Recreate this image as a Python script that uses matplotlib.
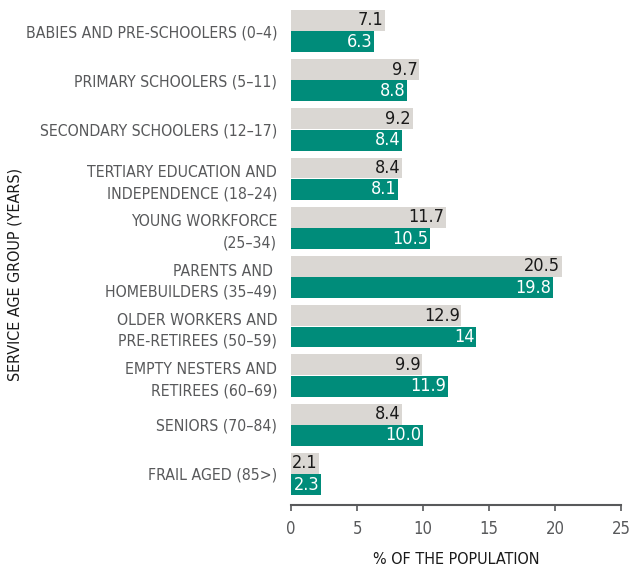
import matplotlib.pyplot as plt
import numpy as np

# Datos
groups = ['BABIES AND PRE-SCHOOLERS (0–4)', 'PRIMARY SCHOOLERS (5–11)',
          'SECONDARY SCHOOLERS (12–17)', 'TERTIARY EDUCATION AND\nINDEPENDENCE (18–24)',
          'YOUNG WORKFORCE\n(25–34)', 'PARENTS AND \nHOMEBUILDERS (35–49)',
          'OLDER WORKERS AND\nPRE-RETIREES (50–59)', 'EMPTY NESTERS AND\nRETIREES (60–69)',
          'SENIORS (70–84)', 'FRAIL AGED (85>)']
grey_vals = [7.1, 9.7, 9.2, 8.4, 11.7, 20.5, 12.9, 9.9, 8.4, 2.1]
teal_vals = [6.3, 8.8, 8.4, 8.1, 10.5, 19.8, 14.0, 11.9, 10.0, 2.3]
grey_labels = ['7.1', '9.7', '9.2', '8.4', '11.7', '20.5', '12.9', '9.9', '8.4', '2.1']
teal_labels = ['6.3', '8.8', '8.4', '8.1', '10.5', '19.8', '14', '11.9', '10.0', '2.3']
xticks = [0, 5, 10, 15, 20, 25]

plt.rcParams['font.family'] = ['DejaVu Sans']
plt.rcParams['font.stretch'] = 'condensed'

GREY = '#dad7d3'
TEAL = '#008c7a'
TXT = '#58595b'

fig = plt.figure(figsize=(6.3, 5.71), dpi=100)
ax = fig.add_axes([0.462, 0.1156, 0.524, 0.8757])

y = np.arange(len(groups))
h = 0.425
off = 0.217
ax.barh(y - off, grey_vals, height=h, color=GREY)
ax.barh(y + off, teal_vals, height=h, color=TEAL)

for i in range(len(groups)):
    ax.text(grey_vals[i] - 0.12, y[i] - off, grey_labels[i], ha='right', va='center',
            color='#1a1a1a', fontsize=13)
    ax.text(teal_vals[i] - 0.12, y[i] + off, teal_labels[i], ha='right', va='center',
            color='white', fontsize=13)

ax.set_ylim(9.63, -0.53)
ax.set_xlim(0, 25)
ax.set_xticks(xticks)
ax.set_yticks(y)
ax.set_yticklabels(groups, fontsize=11.3, color=TXT, linespacing=1.5)
ax.tick_params(axis='y', length=0, pad=10)
ax.tick_params(axis='x', colors=TXT, labelsize=12, length=4, width=1.2, pad=7)
for s in ['top', 'right', 'left']:
    ax.spines[s].set_visible(False)
ax.spines['bottom'].set_color('#58595b')
ax.spines['bottom'].set_linewidth(1.5)

ax.set_xlabel('% OF THE POPULATION', fontsize=11.5, color='#1a1a1a', labelpad=10)
fig.text(0.024, 0.52, 'SERVICE AGE GROUP (YEARS)', rotation=90, ha='center', va='center',
         fontsize=11.5, color='#1a1a1a')

fig.savefig('out.png', dpi=100)
